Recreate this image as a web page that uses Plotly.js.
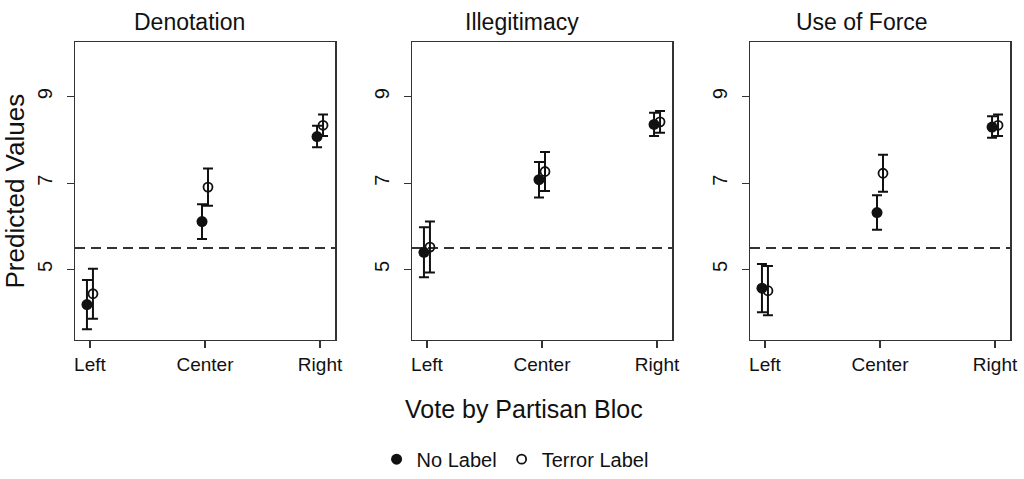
<!DOCTYPE html>
<html>
<head>
<meta charset="utf-8">
<script src="https://cdn.plot.ly/plotly-3.0.1.min.js"></script>
<style>
  html, body { margin: 0; padding: 0; background: #fff; }
  #chart { width: 1024px; height: 479px; }
</style>
</head>
<body>
<div id="chart"></div>
<script>
// ---- Data ----
const categories = ['Left', 'Center', 'Right'];
const panelTitles = ['Denotation', 'Illegitimacy', 'Use of Force'];
const seriesNames = ['No Label', 'Terror Label'];

const denotationNoLabel     = [4.19, 6.11, 8.08];
const denotationNoLabelErr  = [0.57, 0.40, 0.25];
const denotationTerror      = [4.44, 6.91, 8.34];
const denotationTerrorErr   = [0.58, 0.43, 0.25];

const illegitimacyNoLabel    = [5.40, 7.08, 8.36];
const illegitimacyNoLabelErr = [0.58, 0.41, 0.27];
const illegitimacyTerror     = [5.52, 7.27, 8.42];
const illegitimacyTerrorErr  = [0.59, 0.45, 0.25];

const forceNoLabel     = [4.57, 6.32, 8.30];
const forceNoLabelErr  = [0.56, 0.40, 0.25];
const forceTerror      = [4.51, 7.23, 8.34];
const forceTerrorErr   = [0.57, 0.43, 0.25];

const referenceLine = 5.5;
const yTicks = [5, 7, 9];

// ---- Build ----
const panels = [
  [denotationNoLabel, denotationNoLabelErr, denotationTerror, denotationTerrorErr],
  [illegitimacyNoLabel, illegitimacyNoLabelErr, illegitimacyTerror, illegitimacyTerrorErr],
  [forceNoLabel, forceNoLabelErr, forceTerror, forceTerrorErr]
];

const FONT = 'Liberation Sans, Arial, Helvetica, sans-serif';
const INK = '#111';
const W = 1024, H = 479;
const domainsPx = [[75, 335], [412, 672], [750, 1010]];
const titleCentersPx = [189, 522, 862];
const yTopPx = 43, yBotPx = 345;
const offset = 0.026;
const xIdx = categories.map((c, i) => i);

const traces = [];
panels.forEach((p, k) => {
  const ax = k === 0 ? '' : String(k + 1);
  traces.push({
    type: 'scatter', mode: 'markers',
    x: xIdx.map(i => i - offset), y: p[0],
    name: seriesNames[0], legendgroup: 'a', showlegend: k === 0,
    xaxis: 'x' + ax, yaxis: 'y' + ax,
    marker: { symbol: 'circle', size: 11, color: INK },
    error_y: { type: 'data', array: p[1], visible: true, color: INK, thickness: 2, width: 5 },
    hoverinfo: 'y'
  });
  traces.push({
    type: 'scatter', mode: 'markers',
    x: xIdx.map(i => i + offset), y: p[2],
    name: seriesNames[1], legendgroup: 'b', showlegend: k === 0,
    xaxis: 'x' + ax, yaxis: 'y' + ax,
    marker: { symbol: 'circle-open', size: 9, color: INK, line: { width: 1.8, color: INK } },
    error_y: { type: 'data', array: p[3], visible: true, color: INK, thickness: 2, width: 5 },
    hoverinfo: 'y'
  });
});

const layout = {
  width: W, height: H,
  margin: { l: 0, r: 0, t: 0, b: 0 },
  paper_bgcolor: '#fff', plot_bgcolor: '#fff',
  font: { family: FONT, color: INK, size: 19 },
  showlegend: true,
  legend: {
    orientation: 'h', x: 0.503, xanchor: 'center', y: 1 - 466 / H, yanchor: 'middle',
    font: { family: FONT, size: 20, color: INK }, itemwidth: 30, tracegroupgap: 0,
    bgcolor: 'rgba(0,0,0,0)'
  },
  shapes: [],
  annotations: []
};

domainsPx.forEach((d, k) => {
  const ax = k === 0 ? '' : String(k + 1);
  layout['xaxis' + ax] = {
    domain: [d[0] / W, d[1] / W],
    range: [-0.13, 2.13],
    tickmode: 'array', tickvals: xIdx, ticktext: categories,
    ticks: 'outside', ticklen: 7, tickwidth: 1.3, tickcolor: '#333',
    showline: true, linecolor: '#333', linewidth: 1.5, mirror: true,
    showgrid: false, zeroline: false,
    tickfont: { family: FONT, size: 19, color: INK },
    anchor: 'y' + ax, fixedrange: true
  };
  layout['yaxis' + ax] = {
    domain: [1 - yBotPx / H, 1 - yTopPx / H],
    range: [3.37, 10.26],
    tickmode: 'array', tickvals: yTicks, ticktext: yTicks.map(String),
    tickangle: -90,
    ticks: 'outside', ticklen: 7, tickwidth: 1.3, tickcolor: '#333',
    ticklabelstandoff: 7,
    showline: true, linecolor: '#333', linewidth: 1.5, mirror: true,
    showgrid: false, zeroline: false,
    tickfont: { family: FONT, size: 20, color: INK },
    anchor: 'x' + ax, fixedrange: true
  };
  layout.shapes.push({
    type: 'line', xref: 'x' + ax + ' domain', x0: 0, x1: 1,
    yref: 'y' + ax, y0: referenceLine, y1: referenceLine,
    line: { color: '#333', width: 2, dash: '10px,6px' }, layer: 'below'
  });
  layout.annotations.push({
    text: panelTitles[k], xref: 'paper', yref: 'paper',
    x: titleCentersPx[k] / W, y: 1 - 22 / H, xanchor: 'center', yanchor: 'middle',
    showarrow: false, font: { family: FONT, size: 23, color: INK }
  });
});

layout.yaxis.title = { text: 'Predicted Values', font: { family: FONT, size: 26, color: INK }, standoff: 10 };

layout.annotations.push({
  text: 'Vote by Partisan Bloc', xref: 'paper', yref: 'paper',
  x: 0.512, y: 1 - 415 / H, xanchor: 'center', yanchor: 'middle',
  showarrow: false, font: { family: FONT, size: 25, color: INK }
});

Plotly.newPlot('chart', traces, layout, { displayModeBar: false, staticPlot: true });
</script>
</body>
</html>
